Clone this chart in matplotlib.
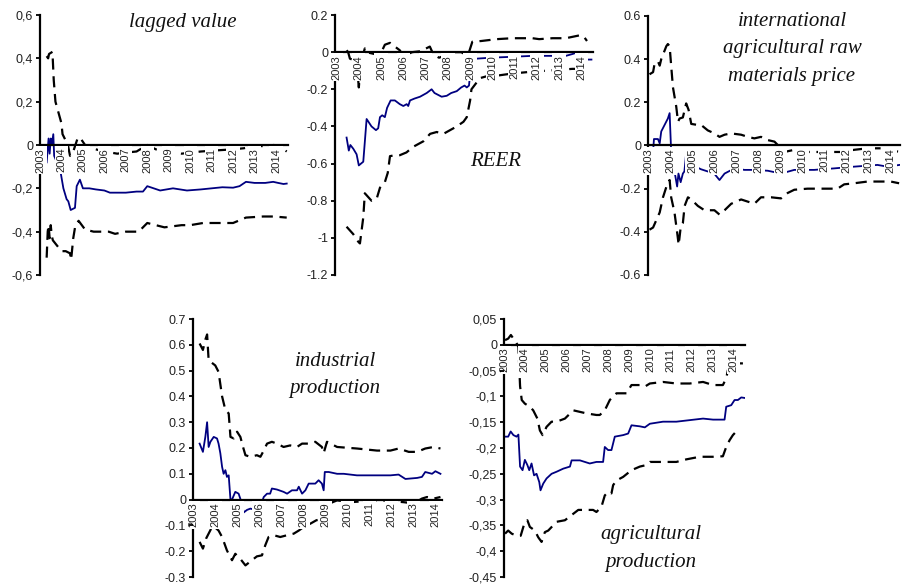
import matplotlib
matplotlib.use("Agg")
import matplotlib.pyplot as plt

W, H = 904, 584
years = list(range(2003, 2015))
year_labels = [str(y) for y in years]

# lagged value
p1_est_x = [2003.31, 2003.4, 2003.45, 2003.5, 2003.55, 2003.62, 2003.66, 2003.95, 2004.09, 2004.24, 2004.32,
            2004.43, 2004.63, 2004.71, 2004.86, 2005.0, 2005.3, 2005.6, 2006.0, 2006.26, 2006.6, 2007.0,
            2007.5, 2007.8, 2008.0, 2008.3, 2008.6, 2008.9, 2009.2, 2009.85, 2010.5, 2011.0, 2011.5,
            2012.0, 2012.3, 2012.6, 2013.0, 2013.5, 2013.87, 2014.1, 2014.35, 2014.5]
p1_est_y = [-0.08, 0.03, -0.04, 0.03, 0.0, 0.05, -0.05, -0.12, -0.2, -0.25, -0.26,
            -0.3, -0.29, -0.19, -0.16, -0.2, -0.2, -0.205, -0.21, -0.22, -0.22, -0.22,
            -0.215, -0.215, -0.19, -0.2, -0.21, -0.205, -0.2, -0.21, -0.205, -0.2, -0.195,
            -0.197, -0.19, -0.17, -0.175, -0.175, -0.17, -0.175, -0.18, -0.178]
p1_up_x = [2003.31, 2003.38, 2003.42, 2003.58, 2003.64, 2003.72, 2004.0, 2004.05, 2004.3, 2004.4, 2004.55,
           2004.75, 2004.86, 2005.1, 2005.6, 2006.0, 2006.6, 2007.0, 2007.5, 2008.0, 2008.4, 2008.9,
           2009.6, 2010.5, 2011.2, 2012.0, 2012.5, 2013.0, 2013.5, 2013.9, 2014.2, 2014.5]
p1_up_y = [0.41, 0.4, 0.42, 0.43, 0.3, 0.2, 0.1, 0.05, 0.0, -0.05, -0.03,
           0.03, 0.035, 0.0, -0.02, -0.03, -0.04, -0.035, -0.03, 0.0, -0.02, -0.03,
           -0.04, -0.03, -0.025, -0.02, -0.015, -0.005, -0.005, 0.0, -0.01, -0.03]
p1_lo_x = [2003.31, 2003.36, 2003.4, 2003.45, 2003.5, 2003.55, 2003.6, 2004.0, 2004.2, 2004.4, 2004.45,
           2004.55, 2004.65, 2004.8, 2004.95, 2005.1, 2005.5, 2006.2, 2006.5, 2007.0, 2007.6, 2008.0,
           2008.4, 2008.8, 2009.6, 2010.0, 2010.6, 2011.2, 2012.0, 2012.6, 2013.4, 2013.9, 2014.5]
p1_lo_y = [-0.52, -0.4, -0.37, -0.43, -0.37, -0.42, -0.44, -0.49, -0.49, -0.5, -0.53,
           -0.43, -0.37, -0.35, -0.37, -0.39, -0.4, -0.4, -0.41, -0.4, -0.4, -0.36,
           -0.37, -0.38, -0.37, -0.37, -0.36, -0.36, -0.36, -0.335, -0.33, -0.33, -0.335]
p1_yticks = [0.6, 0.4, 0.2, 0, -0.2, -0.4, -0.6]
p1_ylabels = ['0,6', '0,4', '0,2', '0', '-0,2', '-0,4', '-0,6']

# REER
p2_est_x = [2003.45, 2003.55, 2003.62, 2003.75, 2003.9, 2004.0, 2004.2, 2004.35, 2004.57, 2004.77, 2004.87,
            2004.95, 2005.05, 2005.17, 2005.27, 2005.43, 2005.62, 2005.84, 2006.0, 2006.15, 2006.22, 2006.3,
            2006.5, 2006.75, 2007.05, 2007.27, 2007.4, 2007.72, 2007.95, 2008.15, 2008.4, 2008.6, 2008.75,
            2008.85, 2008.95, 2009.05, 2009.3, 2009.9, 2010.9, 2011.8, 2012.7, 2013.3, 2013.6, 2013.85,
            2014.08, 2014.2, 2014.45]
p2_est_y = [-0.46, -0.53, -0.5, -0.52, -0.55, -0.61, -0.59, -0.36, -0.4, -0.42, -0.41,
            -0.35, -0.34, -0.35, -0.3, -0.26, -0.26, -0.28, -0.29, -0.28, -0.29, -0.26,
            -0.25, -0.24, -0.22, -0.2, -0.22, -0.24, -0.235, -0.22, -0.21, -0.19, -0.18,
            -0.19, -0.18, -0.05, -0.035, -0.03, -0.025, -0.02, -0.02, -0.02, -0.01, 0.0,
            0.0, -0.04, -0.04]
p2_up_x = [2003.45, 2003.52, 2003.6, 2003.9, 2004.0, 2004.1, 2004.27, 2004.34, 2004.7, 2004.95, 2005.17,
           2005.4, 2005.84, 2006.0, 2006.4, 2006.77, 2007.19, 2007.34, 2007.6, 2007.94, 2008.1, 2008.6,
           2008.84, 2008.95, 2009.1, 2009.5, 2010.2, 2010.9, 2011.8, 2012.1, 2012.7, 2013.3, 2013.9,
           2014.1, 2014.25]
p2_up_y = [0.01, 0.0, -0.035, -0.05, -0.19, -0.05, 0.02, 0.0, -0.01, -0.016, 0.04,
           0.05, 0.01, -0.02, 0.0, 0.005, 0.03, -0.01, -0.03, -0.016, 0.0, 0.0,
           -0.016, 0.0, 0.056, 0.06, 0.07, 0.075, 0.075, 0.07, 0.075, 0.075, 0.09,
           0.085, 0.06]
p2_lo_x = [2003.45, 2003.6, 2003.75, 2003.97, 2004.05, 2004.2, 2004.27, 2004.57, 2004.8, 2004.95, 2005.17,
           2005.3, 2005.4, 2005.62, 2005.84, 2006.14, 2006.44, 2006.9, 2007.2, 2007.5, 2007.8, 2008.1,
           2008.4, 2008.7, 2008.85, 2009.0, 2009.06, 2009.44, 2009.74, 2010.3, 2010.9, 2011.8, 2012.4,
           2013.0, 2013.6, 2014.25]
p2_lo_y = [-0.94, -0.96, -0.98, -1.02, -1.03, -0.89, -0.76, -0.8, -0.79, -0.73, -0.7,
           -0.65, -0.56, -0.555, -0.555, -0.54, -0.51, -0.48, -0.44, -0.43, -0.44, -0.42,
           -0.4, -0.375, -0.35, -0.26, -0.2, -0.14, -0.13, -0.125, -0.115, -0.105, -0.1,
           -0.095, -0.09, -0.09]
p2_yticks = [0.2, 0, -0.2, -0.4, -0.6, -0.8, -1.0, -1.2]
p2_ylabels = ['0.2', '0', '-0.2', '-0.4', '-0.6', '-0.8', '-1', '-1.2']

# international agricultural raw materials price
p3_est_x = [2003.0, 2003.23, 2003.27, 2003.3, 2003.45, 2003.53, 2003.6, 2003.75, 2003.9, 2003.98, 2004.05,
            2004.32, 2004.38, 2004.48, 2004.58, 2004.65, 2004.73, 2004.8, 2005.0, 2005.4, 2006.0, 2006.24,
            2006.47, 2006.92, 2007.37, 2007.82, 2008.43, 2009.03, 2009.63, 2010.53, 2011.44, 2012.34, 2013.4,
            2013.85, 2014.4]
p3_est_y = [-0.03, -0.03, 0.03, 0.03, 0.03, 0.01, 0.065, 0.095, 0.125, 0.15, -0.03,
            -0.19, -0.13, -0.17, -0.13, -0.12, -0.036, -0.03, -0.09, -0.11, -0.13, -0.16,
            -0.13, -0.106, -0.113, -0.113, -0.117, -0.13, -0.113, -0.113, -0.106, -0.098, -0.09,
            -0.098, -0.09]
p3_up_x = [2003.07, 2003.23, 2003.3, 2003.45, 2003.53, 2003.6, 2003.83, 2003.9, 2003.98, 2004.05, 2004.13,
           2004.28, 2004.36, 2004.43, 2004.58, 2004.73, 2004.84, 2004.96, 2005.26, 2005.41, 2005.71, 2006.01,
           2006.24, 2006.47, 2006.77, 2007.22, 2007.52, 2007.82, 2008.12, 2008.43, 2008.73, 2008.95, 2009.18,
           2009.63, 2010.23, 2011.14, 2011.74, 2012.34, 2012.95, 2013.55, 2014.0, 2014.38]
p3_up_y = [0.33, 0.34, 0.38, 0.39, 0.37, 0.4, 0.46, 0.47, 0.46, 0.37, 0.27,
           0.18, 0.11, 0.125, 0.13, 0.195, 0.165, 0.1, 0.095, 0.095, 0.07, 0.056,
           0.04, 0.05, 0.056, 0.05, 0.04, 0.033, 0.04, 0.025, 0.018, -0.005, -0.03,
           -0.02, -0.03, -0.03, -0.03, -0.02, -0.013, -0.013, -0.02, -0.03]
p3_lo_x = [2003.07, 2003.23, 2003.38, 2003.53, 2003.68, 2003.9, 2003.98, 2004.05, 2004.2, 2004.33, 2004.39,
           2004.48, 2004.58, 2004.66, 2004.81, 2004.96, 2005.26, 2005.56, 2006.01, 2006.24, 2006.47, 2006.77,
           2007.22, 2007.52, 2007.82, 2008.12, 2008.58, 2009.03, 2009.33, 2009.63, 2010.23, 2011.14, 2011.59,
           2011.89, 2012.34, 2012.95, 2013.55, 2014.0, 2014.38]
p3_lo_y = [-0.39, -0.38, -0.345, -0.31, -0.24, -0.17, -0.16, -0.24, -0.31, -0.41, -0.46,
           -0.38, -0.36, -0.28, -0.24, -0.25, -0.28, -0.3, -0.3, -0.32, -0.3, -0.27,
           -0.25, -0.26, -0.27, -0.24, -0.24, -0.245, -0.22, -0.205, -0.2, -0.2, -0.2,
           -0.18, -0.175, -0.167, -0.167, -0.167, -0.175]
p3_yticks = [0.6, 0.4, 0.2, 0, -0.2, -0.4, -0.6]
p3_ylabels = ['0.6', '0.4', '0.2', '0', '-0.2', '-0.4', '-0.6']

# industrial production
p4_est_x = [2003.3, 2003.45, 2003.56, 2003.64, 2003.71, 2003.79, 2003.94, 2004.09, 2004.16, 2004.24, 2004.32,
            2004.39, 2004.47, 2004.54, 2004.62, 2004.7, 2004.77, 2004.92, 2005.07, 2005.22, 2005.3, 2005.45,
            2005.6, 2005.87, 2006.05, 2006.21, 2006.36, 2006.5, 2006.58, 2006.81, 2007.11, 2007.27, 2007.49,
            2007.72, 2007.8, 2007.95, 2008.1, 2008.25, 2008.55, 2008.7, 2008.85, 2008.93, 2008.98, 2009.16,
            2009.54, 2009.84, 2010.44, 2011.05, 2011.96, 2012.33, 2012.64, 2013.17, 2013.39, 2013.54, 2013.85,
            2014.0, 2014.23]
p4_est_y = [0.217, 0.185, 0.243, 0.3, 0.204, 0.224, 0.243, 0.237, 0.217, 0.18, 0.127,
            0.1, 0.114, 0.088, 0.094, 0.0, 0.0, 0.03, 0.023, -0.015, -0.05, -0.04,
            -0.035, -0.04, -0.03, 0.01, 0.023, 0.023, 0.043, 0.039, 0.03, 0.023, 0.036,
            0.036, 0.05, 0.023, 0.036, 0.062, 0.062, 0.075, 0.062, 0.036, 0.107, 0.107,
            0.1, 0.1, 0.094, 0.094, 0.094, 0.097, 0.08, 0.084, 0.088, 0.107, 0.1,
            0.11, 0.1]
p4_up_x = [2003.3, 2003.45, 2003.56, 2003.64, 2003.71, 2003.86, 2004.01, 2004.16, 2004.32, 2004.47, 2004.62,
           2004.7, 2004.85, 2005.0, 2005.15, 2005.27, 2005.38, 2005.6, 2005.9, 2006.06, 2006.21, 2006.36,
           2006.58, 2006.81, 2007.11, 2007.41, 2007.72, 2007.95, 2008.25, 2008.55, 2008.85, 2008.93, 2009.08,
           2009.54, 2010.44, 2011.35, 2011.96, 2012.33, 2012.79, 2013.17, 2013.54, 2013.92, 2014.23]
p4_up_y = [0.605, 0.58, 0.62, 0.64, 0.54, 0.53, 0.52, 0.495, 0.4, 0.347, 0.334,
           0.243, 0.237, 0.263, 0.243, 0.204, 0.172, 0.166, 0.172, 0.166, 0.19, 0.217,
           0.224, 0.217, 0.204, 0.21, 0.204, 0.217, 0.217, 0.224, 0.204, 0.18, 0.224,
           0.204, 0.198, 0.19, 0.19, 0.198, 0.185, 0.185, 0.198, 0.204, 0.198]
p4_lo_x = [2003.3, 2003.45, 2003.6, 2003.9, 2004.16, 2004.32, 2004.54, 2004.77, 2004.92, 2005.15, 2005.38,
           2005.6, 2005.9, 2006.13, 2006.28, 2006.43, 2006.66, 2006.96, 2007.27, 2007.57, 2007.8, 2008.02,
           2008.33, 2008.6, 2008.9, 2009.05, 2009.54, 2010.14, 2011.0, 2011.66, 2012.56, 2013.02, 2013.39,
           2013.62, 2013.92, 2014.23]
p4_lo_y = [-0.164, -0.19, -0.15, -0.1, -0.12, -0.145, -0.197, -0.235, -0.21, -0.23, -0.255,
           -0.24, -0.22, -0.216, -0.177, -0.145, -0.138, -0.145, -0.138, -0.132, -0.12, -0.106,
           -0.093, -0.08, -0.075, -0.02, -0.003, -0.01, -0.005, -0.003, -0.01, -0.015, 0.004,
           0.01, 0.004, 0.01]
p4_yticks = [0.7, 0.6, 0.5, 0.4, 0.3, 0.2, 0.1, 0, -0.1, -0.2, -0.3]
p4_ylabels = ['0.7', '0.6', '0.5', '0.4', '0.3', '0.2', '0.1', '0', '-0.1', '-0.2', '-0.3']

# agricultural production
p5_est_x = [2003.05, 2003.2, 2003.32, 2003.45, 2003.6, 2003.69, 2003.77, 2003.89, 2004.0, 2004.12, 2004.21,
            2004.32, 2004.44, 2004.56, 2004.69, 2004.75, 2004.88, 2005.04, 2005.28, 2005.52, 2005.84, 2006.16,
            2006.24, 2006.64, 2007.11, 2007.43, 2007.75, 2007.83, 2007.99, 2008.15, 2008.31, 2008.71, 2008.95,
            2009.11, 2009.51, 2009.75, 2009.99, 2010.62, 2011.26, 2011.9, 2012.54, 2013.02, 2013.57, 2013.65,
            2013.89, 2014.05, 2014.21, 2014.37, 2014.53]
p5_est_y = [-0.178, -0.178, -0.168, -0.175, -0.178, -0.174, -0.236, -0.243, -0.223, -0.233, -0.243,
            -0.23, -0.253, -0.25, -0.266, -0.282, -0.269, -0.259, -0.25, -0.246, -0.24, -0.236,
            -0.224, -0.224, -0.23, -0.227, -0.227, -0.198, -0.204, -0.204, -0.178, -0.175, -0.172,
            -0.156, -0.158, -0.16, -0.153, -0.149, -0.149, -0.146, -0.143, -0.145, -0.145, -0.12,
            -0.117, -0.107, -0.107, -0.102, -0.103]
p5_up_x = [2003.05, 2003.2, 2003.33, 2003.45, 2003.57, 2003.69, 2003.77, 2003.85, 2004.0, 2004.24, 2004.4,
           2004.6, 2004.72, 2004.85, 2005.04, 2005.28, 2005.52, 2005.92, 2006.32, 2006.64, 2006.96, 2007.43,
           2007.59, 2007.83, 2008.07, 2008.23, 2008.39, 2008.87, 2009.11, 2009.51, 2009.75, 2009.99, 2010.62,
           2011.26, 2011.9, 2012.54, 2013.02, 2013.49, 2013.65, 2013.73, 2013.97, 2014.21, 2014.45]
p5_up_y = [0.009, 0.012, 0.019, 0.012, 0.006, -0.004, -0.08, -0.107, -0.114, -0.12, -0.127,
           -0.143, -0.166, -0.175, -0.159, -0.149, -0.149, -0.143, -0.127, -0.13, -0.133, -0.136,
           -0.136, -0.127, -0.107, -0.1, -0.094, -0.094, -0.078, -0.078, -0.081, -0.075, -0.072,
           -0.075, -0.075, -0.072, -0.078, -0.078, -0.065, -0.049, -0.036, -0.036, -0.036]
p5_lo_x = [2003.05, 2003.2, 2003.37, 2003.6, 2003.8, 2004.0, 2004.12, 2004.24, 2004.48, 2004.64, 2004.8,
           2004.96, 2005.12, 2005.52, 2005.92, 2006.24, 2006.56, 2006.96, 2007.27, 2007.43, 2007.67, 2007.83,
           2007.99, 2008.15, 2008.23, 2008.39, 2008.71, 2009.11, 2009.51, 2009.83, 2009.99, 2010.62, 2011.26,
           2011.74, 2012.38, 2013.02, 2013.49, 2013.65, 2013.81, 2013.97, 2014.13, 2014.29]
p5_lo_y = [-0.366, -0.36, -0.366, -0.37, -0.37, -0.343, -0.34, -0.353, -0.36, -0.373, -0.382,
           -0.363, -0.36, -0.343, -0.34, -0.33, -0.32, -0.32, -0.32, -0.324, -0.314, -0.292,
           -0.285, -0.288, -0.272, -0.263, -0.256, -0.243, -0.236, -0.233, -0.227, -0.227, -0.227,
           -0.222, -0.217, -0.217, -0.216, -0.198, -0.185, -0.175, -0.168, -0.167]
p5_yticks = [0.05, 0, -0.05, -0.1, -0.15, -0.2, -0.25, -0.3, -0.35, -0.4, -0.45]
p5_ylabels = ['0,05', '0', '-0,05', '-0,1', '-0,15', '-0,2', '-0,25', '-0,3', '-0,35', '-0,4', '-0,45']

navy = '#000080'
dash = (0, (5, 3))

fig = plt.figure(figsize=(W / 100, H / 100), dpi=100)


def panel(l, r, t, b, xlim, yticks, ylabels):
    ax = fig.add_axes([l / W, 1 - b / H, (r - l) / W, (b - t) / H])
    ax.set_xlim(*xlim)
    ax.set_ylim(yticks[-1], yticks[0])
    ax.set_axisbelow(False)
    for s in ['top', 'right']:
        ax.spines[s].set_visible(False)
    ax.spines['bottom'].set_position(('data', 0))
    ax.spines['left'].set_linewidth(1.6)
    ax.spines['bottom'].set_linewidth(1.6)
    ax.set_yticks(yticks)
    ax.set_yticklabels(ylabels, fontsize=9, family='Liberation Sans', color='#222222')
    ax.set_xticks(years)
    ax.set_xticklabels(year_labels, rotation=90, fontsize=8, family='Liberation Sans', color='#222222')
    for lab in ax.get_xticklabels():
        lab.set_bbox(dict(facecolor='white', edgecolor='none', pad=1.2))
    ax.tick_params(axis='y', direction='out', length=3, width=1.3, pad=2)
    ax.tick_params(axis='x', length=0, pad=2)
    ax.patch.set_alpha(0)
    return ax


def bands(ax, ex, ey, ux, uy, lx, ly):
    ax.plot(ux, uy, color='black', lw=1.6, linestyle=dash, zorder=1)
    ax.plot(lx, ly, color='black', lw=1.6, linestyle=dash, zorder=1)
    ax.plot(ex, ey, color=navy, lw=1.3, zorder=2)


ax1 = panel(40, 288, 15, 275, (2003.0, 2014.56), p1_yticks, p1_ylabels)
bands(ax1, p1_est_x, p1_est_y, p1_up_x, p1_up_y, p1_lo_x, p1_lo_y)

ax2 = panel(335, 593, 15, 275, (2002.93, 2014.52), p2_yticks, p2_ylabels)
bands(ax2, p2_est_x, p2_est_y, p2_up_x, p2_up_y, p2_lo_x, p2_lo_y)

ax3 = panel(648, 900, 16, 275, (2003.0, 2014.42), p3_yticks, p3_ylabels)
bands(ax3, p3_est_x, p3_est_y, p3_up_x, p3_up_y, p3_lo_x, p3_lo_y)

ax4 = panel(193, 442, 319, 577, (2003.0, 2014.3), p4_yticks, p4_ylabels)
bands(ax4, p4_est_x, p4_est_y, p4_up_x, p4_up_y, p4_lo_x, p4_lo_y)

ax5 = panel(504, 745, 319, 577, (2003.0, 2014.55), p5_yticks, p5_ylabels)
bands(ax5, p5_est_x, p5_est_y, p5_up_x, p5_up_y, p5_lo_x, p5_lo_y)

tkw = dict(fontsize=15, family='Liberation Serif', style='italic', ha='center', va='center',
           color='#111111')
fig.text(183 / W, 1 - 23 / H, 'lagged value', **tkw)
fig.text(496 / W, 1 - 162 / H, 'REER', **tkw)
fig.text(792 / W, 1 - 22 / H, 'international', **tkw)
fig.text(792 / W, 1 - 49 / H, 'agricultural raw', **tkw)
fig.text(792 / W, 1 - 76 / H, 'materials price', **tkw)
fig.text(335 / W, 1 - 362 / H, 'industrial', **tkw)
fig.text(335 / W, 1 - 388 / H, 'production', **tkw)
fig.text(651 / W, 1 - 535 / H, 'agricultural', **tkw)
fig.text(651 / W, 1 - 562 / H, 'production', **tkw)

fig.savefig('out.png', dpi=100)
